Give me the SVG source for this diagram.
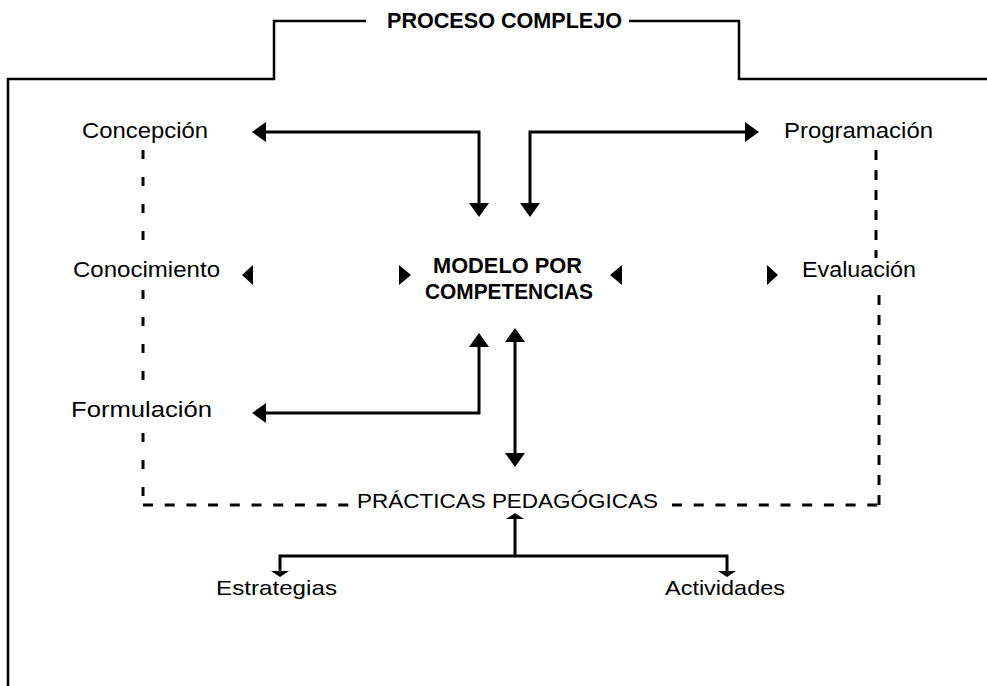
<svg xmlns="http://www.w3.org/2000/svg" width="987" height="686" viewBox="0 0 987 686">
<style>
  .lbl { font-family: "Liberation Sans", Arial, sans-serif; font-size: 22px; fill: #000; }
  .lbl2 { font-family: "Liberation Sans", Arial, sans-serif; font-size: 21px; fill: #000; }
  .bold { font-family: "Liberation Sans", Arial, sans-serif; font-size: 22px; font-weight: bold; fill: #000; }
  .frame { fill: none; stroke: #000; stroke-width: 2.5; }
  .dash { fill: none; stroke: #000; stroke-width: 3; stroke-dasharray: 10 11.7; }
  .dashv { fill: none; stroke: #000; stroke-width: 3; stroke-dasharray: 9 18; }
  .dashr { fill: none; stroke: #000; stroke-width: 3; stroke-dasharray: 10 10; }
  .arr { fill: none; stroke: #000; stroke-width: 3; }
  .tri { fill: #000; }
</style>
<defs>
  <marker id="ah" viewBox="0 0 14 20" refX="4" refY="10" markerWidth="14" markerHeight="20" markerUnits="userSpaceOnUse" orient="auto-start-reverse">
    <path d="M0,0 L14,10 L0,20 z" fill="#000"/>
  </marker>
  <marker id="ahs" viewBox="0 0 6 18" refX="1" refY="9" markerWidth="6" markerHeight="18" markerUnits="userSpaceOnUse" orient="auto-start-reverse">
    <path d="M0,0 L6,9 L0,18 z" fill="#000"/>
  </marker>
</defs>
<rect width="987" height="686" fill="#fff"/>

<g id="frame">
  <path class="frame" d="M8,686 V79 H274 V21 H366"/>
  <path class="frame" d="M629,21 H739 V79 H987"/>
  <text class="bold" x="387" y="28" textLength="235" lengthAdjust="spacingAndGlyphs">PROCESO COMPLEJO</text>
</g>

<g id="connectors">
  <path class="dashv" d="M143,150 V258"/>
  <path class="dashv" d="M143,290 V398"/>
  <path class="dashv" d="M143,433 V505"/>
  <path class="dash" d="M143,505 H350"/>
  <path class="dashr" d="M876,150 V258"/>
  <path class="dash" d="M672,505 H879"/>
  <path class="dashr" d="M879,505 V288"/>
  <path class="arr" d="M479,207 V132 H262" marker-start="url(#ah)" marker-end="url(#ah)"/>
  <path class="arr" d="M530,207 V132 H749" marker-start="url(#ah)" marker-end="url(#ah)"/>
  <path class="arr" d="M262,413 H479 V343" marker-start="url(#ah)" marker-end="url(#ah)"/>
  <path class="arr" d="M515,338 V457" marker-start="url(#ah)" marker-end="url(#ah)"/>
  <path class="arr" d="M515,556 V518" marker-end="url(#ahs)"/>
  <path class="arr" d="M280,572 V556 H727 V572" marker-start="url(#ahs)" marker-end="url(#ahs)"/>
  <polygon class="tri" points="242,275 253,265 253,285"/>
  <polygon class="tri" points="411,275 399,265 399,285"/>
  <polygon class="tri" points="610,275 622,265 622,285"/>
  <polygon class="tri" points="778,275 767,265 767,285"/>
</g>

<g id="node-concepcion"><text class="lbl" x="82" y="138" textLength="126" lengthAdjust="spacingAndGlyphs">Concepción</text></g>
<g id="node-programacion"><text class="lbl" x="784" y="138" textLength="149" lengthAdjust="spacingAndGlyphs">Programación</text></g>
<g id="node-conocimiento"><text class="lbl" x="73" y="277" textLength="147" lengthAdjust="spacingAndGlyphs">Conocimiento</text></g>
<g id="node-evaluacion"><text class="lbl" x="802" y="277" textLength="114" lengthAdjust="spacingAndGlyphs">Evaluación</text></g>
<g id="node-formulacion"><text class="lbl" x="71" y="417" textLength="141" lengthAdjust="spacingAndGlyphs">Formulación</text></g>
<g id="node-modelo">
  <text class="bold" x="433" y="273" textLength="149" lengthAdjust="spacingAndGlyphs">MODELO POR</text>
  <text class="bold" x="425" y="299" textLength="168" lengthAdjust="spacingAndGlyphs">COMPETENCIAS</text>
</g>
<g id="node-practicas"><text class="lbl2" x="357" y="508" textLength="301" lengthAdjust="spacingAndGlyphs">PRÁCTICAS PEDAGÓGICAS</text></g>
<g id="node-estrategias"><text class="lbl2" x="216" y="595" textLength="121" lengthAdjust="spacingAndGlyphs">Estrategias</text></g>
<g id="node-actividades"><text class="lbl2" x="665" y="595" textLength="120" lengthAdjust="spacingAndGlyphs">Actividades</text></g>
</svg>
